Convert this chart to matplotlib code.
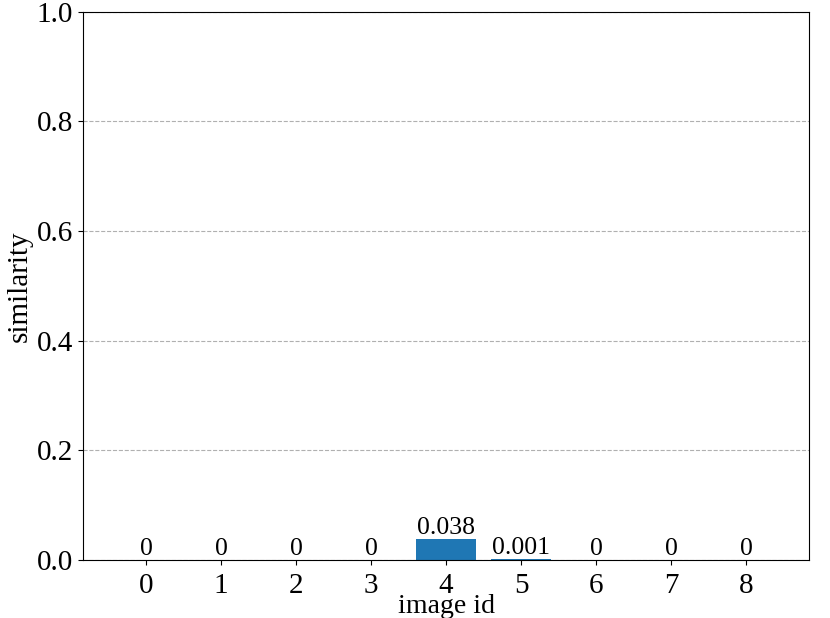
import matplotlib
matplotlib.use("Agg")
import matplotlib.pyplot as plt

# 各画像の類似度
image_ids = [0, 1, 2, 3, 4, 5, 6, 7, 8]
similarity = [0, 0, 0, 0, 0.038, 0.001, 0, 0, 0]
bar_labels = ["0", "0", "0", "0", "0.038", "0.001", "0", "0", "0"]

plt.rcParams["font.family"] = ["Liberation Serif", "DejaVu Serif"]

fig, ax = plt.subplots(figsize=(8.3, 6.18), dpi=100)
fig.subplots_adjust(left=0.1, right=0.975, top=0.981, bottom=0.094)

bars = ax.bar(image_ids, similarity, width=0.8, color="#1f77b4")
ax.bar_label(bars, labels=bar_labels, fontsize=18.5)

ax.set_ylim(0, 1.0)
ax.set_xticks(image_ids)
ax.tick_params(axis="both", labelsize=21)
ax.tick_params(axis="x", pad=6)
ax.yaxis.grid(True, linestyle="--", color="#b0b0b0")
ax.set_axisbelow(True)
ax.set_xlabel("image id", fontsize=20, labelpad=-4)
ax.set_ylabel("similarity", fontsize=21, labelpad=3)

fig.savefig("out.png")
